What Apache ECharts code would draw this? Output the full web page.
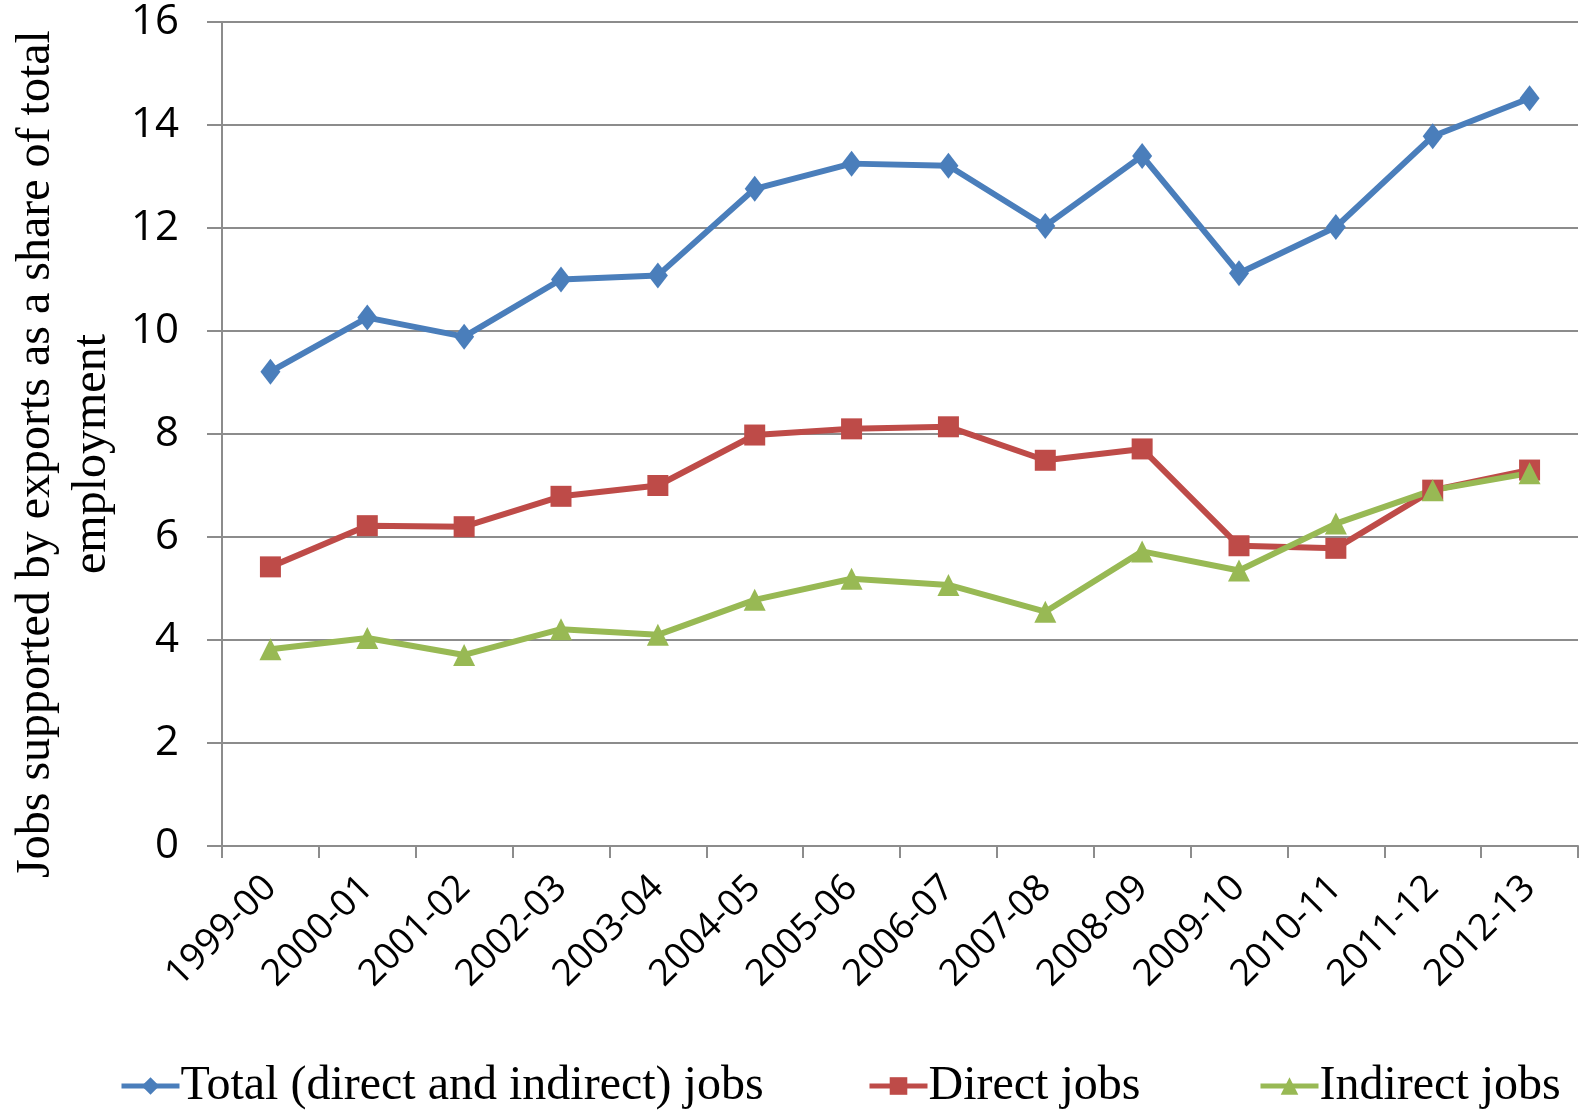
<!DOCTYPE html>
<html>
<head>
<meta charset="utf-8">
<script src="https://cdn.jsdelivr.net/npm/echarts@6/dist/echarts.min.js"></script>
<style>
html,body{margin:0;padding:0;background:#fff;}
#chart{width:1581px;height:1111px;}
</style>
</head>
<body>
<div id="chart"></div>
<script>
const categories = ['1999-00','2000-01','2001-02','2002-03','2003-04','2004-05','2005-06','2006-07','2007-08','2008-09','2009-10','2010-11','2011-12','2012-13'];
const totalJobs = [9.21, 10.26, 9.89, 11.0, 11.08, 12.76, 13.25, 13.21, 12.04, 13.4, 11.12, 12.02, 13.78, 14.52];
const directJobs = [5.42, 6.22, 6.2, 6.79, 7.0, 7.98, 8.1, 8.14, 7.49, 7.71, 5.83, 5.78, 6.91, 7.3];
const indirectJobs = [3.82, 4.04, 3.71, 4.21, 4.1, 4.78, 5.19, 5.07, 4.55, 5.72, 5.35, 6.26, 6.91, 7.24];
const seriesNames = ['Total (direct and indirect) jobs', 'Direct jobs', 'Indirect jobs'];
const yAxisTitle = 'Jobs supported by exports as a share of total\nemployment';

const chart = echarts.init(document.getElementById('chart'), null, {renderer: 'canvas'});
const legendText = {fontFamily: '"Liberation Serif", "Times New Roman", serif', fontSize: 48, color: '#000', padding: [0, 0, 0, -4]};
const legendBase = {
  orient: 'horizontal', top: 1062, itemWidth: 58, itemHeight: 22, itemGap: 0,
  textStyle: legendText, padding: 0,
  lineStyle: {width: 5}
};
chart.setOption({
  animation: false,
  backgroundColor: '#fff',
  grid: {left: 222, right: 3, top: 22, bottom: 265, containLabel: false, outerBoundsMode: 'none'},
  legend: [
    Object.assign({}, legendBase, {left: 119, data: [seriesNames[0]]}),
    Object.assign({}, legendBase, {left: 867, data: [seriesNames[1]]}),
    Object.assign({}, legendBase, {left: 1258, data: [seriesNames[2]]})
  ],
  xAxis: {
    type: 'category',
    data: categories,
    boundaryGap: true,
    axisLine: {lineStyle: {color: '#8c8c8c', width: 2}},
    axisTick: {show: true, length: 12, lineStyle: {color: '#8c8c8c', width: 2}, alignWithLabel: false},
    axisLabel: {rotate: 45, margin: 36, fontFamily: '"Open Sans", sans-serif', fontSize: 37, color: '#000', interval: 0}
  },
  yAxis: {
    type: 'value',
    min: 0, max: 16, interval: 2,
    name: yAxisTitle,
    nameLocation: 'middle',
    nameGap: 96,
    nameRotate: 90,
    nameTextStyle: {fontFamily: '"Liberation Serif", "Times New Roman", serif', fontSize: 48, lineHeight: 56, color: '#000', padding: [0, 40, 0, 0]},
    axisLine: {show: true, lineStyle: {color: '#8c8c8c', width: 2}},
    axisTick: {show: true, length: 15, lineStyle: {color: '#8c8c8c', width: 2}},
    splitLine: {show: true, lineStyle: {color: '#8c8c8c', width: 2}},
    axisLabel: {margin: 43, fontFamily: '"Open Sans", sans-serif', fontSize: 42, color: '#000'}
  },
  series: [
    {
      name: seriesNames[0], type: 'line', data: totalJobs,
      symbol: 'diamond', symbolSize: [20, 26],
      lineStyle: {color: '#4A7EBB', width: 6},
      itemStyle: {color: '#4A7EBB'}
    },
    {
      name: seriesNames[1], type: 'line', data: directJobs,
      symbol: 'rect', symbolSize: 21,
      lineStyle: {color: '#BE4B48', width: 6},
      itemStyle: {color: '#BE4B48'}
    },
    {
      name: seriesNames[2], type: 'line', data: indirectJobs,
      symbol: 'triangle', symbolSize: [22, 22],
      lineStyle: {color: '#98B954', width: 6},
      itemStyle: {color: '#98B954'}
    }
  ]
});
</script>
</body>
</html>
